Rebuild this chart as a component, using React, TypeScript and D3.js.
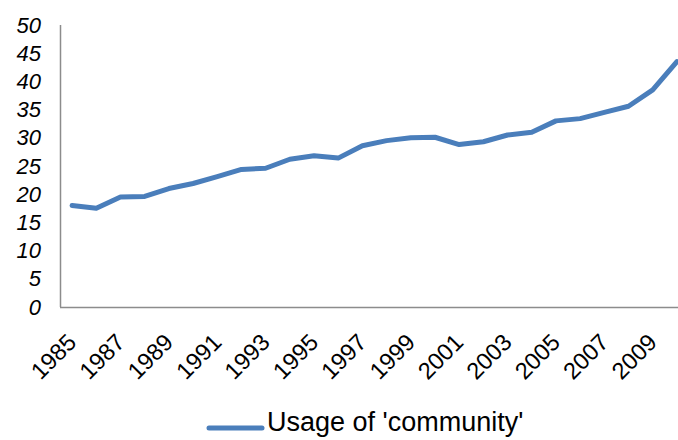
import React from "react";
import * as d3 from "d3";

// Yearly usage index for the word "community"
const years: number[] = [
  1985, 1986, 1987, 1988, 1989, 1990, 1991, 1992, 1993, 1994, 1995, 1996, 1997,
  1998, 1999, 2000, 2001, 2002, 2003, 2004, 2005, 2006, 2007, 2008, 2009, 2010,
];
const usage: number[] = [
  18.0, 17.5, 19.5, 19.6, 21.0, 21.9, 23.1, 24.4, 24.6, 26.2, 26.8, 26.4, 28.6,
  29.5, 30.0, 30.1, 28.8, 29.3, 30.5, 31.0, 33.0, 33.4, 34.5, 35.6, 38.5, 43.5,
];
const yTicks: number[] = [0, 5, 10, 15, 20, 25, 30, 35, 40, 45, 50];
const seriesName = "Usage of 'community'";

const W = 678;
const H = 440;
const FONT = "'Liberation Sans', Arial, sans-serif";
const LINE_COLOR = "#4a7ebb";
const AXIS_COLOR = "#8c8c8c";

export default function App() {
  const x = d3
    .scaleBand<number>()
    .domain(years)
    .range([60, 689])
    .padding(0);
  const y = d3.scaleLinear().domain([0, 50]).range([307, 25]);
  const cx = (yr: number) => (x(yr) as number) + x.bandwidth() / 2;

  const line = d3
    .line<number>()
    .x((_, i) => cx(years[i]))
    .y((v) => y(v));

  const labelYears = years.filter((yr) => (yr - 1985) % 2 === 0);

  return (
    <svg
      width={W}
      height={H}
      style={{ position: "absolute", left: 0, top: 0, display: "block", background: "#fff" }}
      fontFamily={FONT}
    >
      {/* value axis labels */}
      {yTicks.map((t) => (
        <text
          key={t}
          x={41}
          y={y(t)}
          textAnchor="end"
          dominantBaseline="central"
          fontSize={22}
          fontStyle="italic"
          fill="#000"
        >
          {t}
        </text>
      ))}

      {/* axes */}
      <line x1={60.5} x2={60.5} y1={y(50)} y2={y(0)} stroke={AXIS_COLOR} strokeWidth={1.5} />
      <line x1={60} x2={W} y1={y(0) + 0.5} y2={y(0) + 0.5} stroke={AXIS_COLOR} strokeWidth={1.5} />

      {/* category labels, rotated */}
      {labelYears.map((yr) => {
        const px = cx(yr);
        const py = 338;
        return (
          <text
            key={yr}
            x={px}
            y={py}
            transform={`rotate(-45 ${px} ${py})`}
            textAnchor="end"
            dominantBaseline="central"
            fontSize={23.5}
            fill="#000"
          >
            {yr}
          </text>
        );
      })}

      {/* series line */}
      <path
        d={line(usage) ?? ""}
        fill="none"
        stroke={LINE_COLOR}
        strokeWidth={5}
        strokeLinejoin="round"
        strokeLinecap="round"
      />

      {/* legend */}
      <line x1={209} x2={262} y1={428} y2={428} stroke={LINE_COLOR} strokeWidth={5} strokeLinecap="round" />
      <text x={267} y={431} fontSize={27} fill="#000">
        {seriesName}
      </text>
    </svg>
  );
}
